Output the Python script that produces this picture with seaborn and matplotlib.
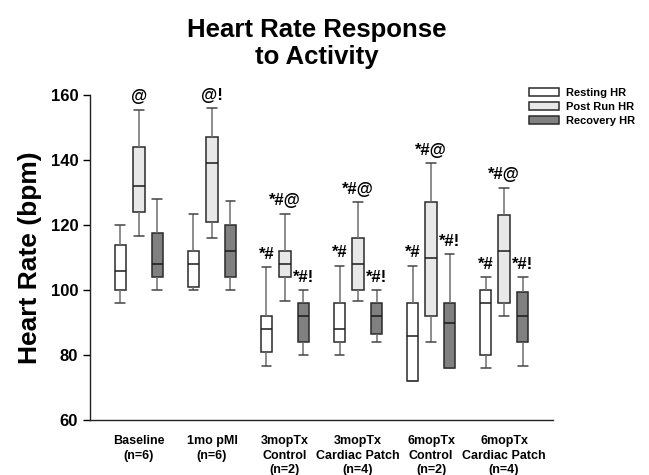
import numpy as np
import pandas as pd
import matplotlib
matplotlib.use("Agg")
import matplotlib.pyplot as plt
import seaborn as sns

# ---- data ----
groups = ["Baseline\n(n=6)", "1mo pMI\n(n=6)", "3mopTx\nControl\n(n=2)",
          "3mopTx\nCardiac Patch\n(n=4)", "6mopTx\nControl\n(n=2)",
          "6mopTx\nCardiac Patch\n(n=4)"]
series = ["Resting HR", "Post Run HR", "Recovery HR"]

resting_low = [96, 100, 76.5, 80, 72, 76]
resting_q1 = [100, 101, 81, 84, 72, 80]
resting_med = [106, 108, 88, 88, 86, 96]
resting_q3 = [114, 112, 92, 96, 96, 100]
resting_high = [120, 123.5, 107, 107.5, 107.5, 104]

postrun_low = [116.5, 116, 96.5, 96.5, 84, 92]
postrun_q1 = [124, 121, 104, 100, 92, 96]
postrun_med = [132, 139, 108, 108, 110, 112]
postrun_q3 = [144, 147, 112, 116, 127, 123]
postrun_high = [155.5, 156, 123.5, 127, 139, 131.5]

recovery_low = [100, 100, 80, 84, 76, 76.5]
recovery_q1 = [104, 104, 84, 86.5, 76, 84]
recovery_med = [108, 112, 92, 92, 90, 92]
recovery_q3 = [117.5, 120, 96, 96, 96, 99.5]
recovery_high = [128, 127.5, 100, 100, 111, 104]

resting_marks = ["", "", "*#", "*#", "*#", "*#"]
postrun_marks = ["@", "@!", "*#@", "*#@", "*#@", "*#@"]
recovery_marks = ["", "", "*#!", "*#!", "*#!", "*#!"]

colors = ["#ffffff", "#e8e8e8", "#808080"]

# ---- build long table: 5 points per box reproduce its five-number summary ----
summaries = {
    "Resting HR": [resting_low, resting_q1, resting_med, resting_q3, resting_high],
    "Post Run HR": [postrun_low, postrun_q1, postrun_med, postrun_q3, postrun_high],
    "Recovery HR": [recovery_low, recovery_q1, recovery_med, recovery_q3, recovery_high],
}
rows = []
for s in series:
    stats = summaries[s]
    for gi, g in enumerate(groups):
        for arr in stats:
            rows.append({"group": g, "series": s, "hr": arr[gi]})
df = pd.DataFrame(rows)

sns.set_style("ticks")
plt.rcParams["font.family"] = ["Liberation Sans", "DejaVu Sans"]
plt.rcParams["font.weight"] = "bold"
for k in ["text.color", "axes.labelcolor", "xtick.color", "ytick.color"]:
    plt.rcParams[k] = "black"

fig = plt.figure(figsize=(6.49, 4.75), dpi=100)
ax = fig.add_axes([90 / 649, 1 - 420 / 475, 463 / 649, 325 / 475])

total_w = 0.76
gap = 0.37
box_w = total_w / 3 * (1 - gap)
sns.boxplot(data=df, x="group", y="hr", hue="series", order=groups,
            hue_order=series, palette=colors, saturation=1,
            width=total_w, gap=gap, whis=(0, 100), linewidth=1.1,
            linecolor="#2a2a2a", ax=ax, capwidths=box_w * 0.85,
            whiskerprops={"color": "#6e6e6e"}, capprops={"color": "#444444"},
            medianprops={"color": "#1a1a1a"})

ax.set_xlim(-0.67, 5.67)
ax.set_ylim(60, 160)
ax.set_yticks(np.arange(60, 161, 20))
ax.tick_params(axis="y", labelsize=12, length=5, width=1, direction="out",
               colors="black")
ax.tick_params(axis="x", labelsize=9, length=0, pad=11, colors="black")
for lab in ax.get_xticklabels():
    lab.set_fontweight("bold")
    lab.set_linespacing(1.25)
for lab in ax.get_yticklabels():
    lab.set_fontweight("bold")
ax.set_xlabel("")
ax.set_ylabel("Heart Rate (bpm)", fontsize=19, fontweight="bold", labelpad=6,
              color="black")
sns.despine(ax=ax)
for sp in ["left", "bottom"]:
    ax.spines[sp].set_linewidth(1.0)
    ax.spines[sp].set_color("#222222")

# significance marks above the upper whiskers
offsets = [-total_w / 3, 0, total_w / 3]
mark_sets = [resting_marks, postrun_marks, recovery_marks]
tops = [resting_high, postrun_high, recovery_high]
for j in range(3):
    for gi in range(len(groups)):
        txt = mark_sets[j][gi]
        if txt:
            ax.annotate(txt, xy=(gi + offsets[j], tops[j][gi]), xytext=(0, 6),
                        textcoords="offset points", ha="center", va="baseline",
                        fontsize=12, fontweight="bold", color="black",
                        annotation_clip=False)

sns.move_legend(ax, "upper left", bbox_to_anchor=(0.948, 1.022), frameon=False,
                title=None, fontsize=8, handlelength=2.7, handleheight=0.72,
                handletextpad=0.6, labelspacing=0.35, borderpad=0,
                borderaxespad=0)
for t in ax.get_legend().get_texts():
    t.set_fontweight("bold")
    t.set_color("black")

fig.text(317 / 649, 1 - 18 / 475, "Heart Rate Response\nto Activity", ha="center",
         va="top", fontsize=18.5, fontweight="bold", linespacing=1.15,
         color="black")

fig.savefig("out.png", dpi=100)
